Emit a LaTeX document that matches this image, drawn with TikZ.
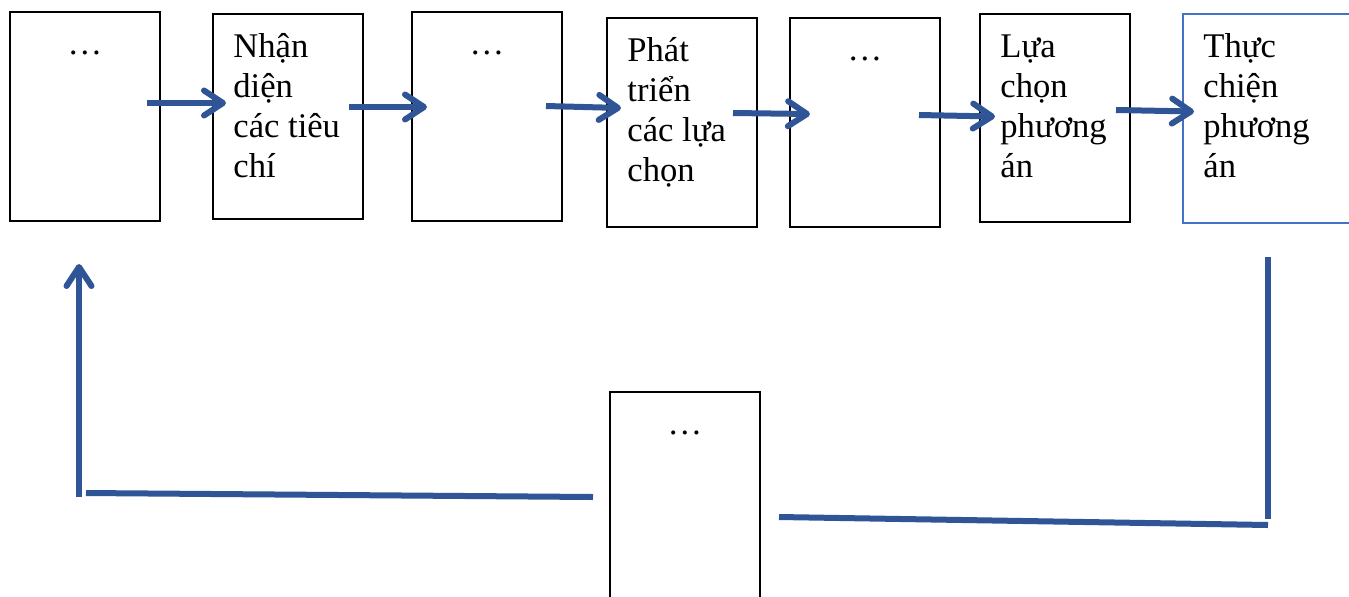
\documentclass[tikz,border=0pt]{standalone}
\usepackage{fontspec}
\setmainfont{Liberation Serif}
\usetikzlibrary{positioning,arrows.meta}
\definecolor{arrowblue}{HTML}{2F5597}
\definecolor{edgeblue}{HTML}{4472C4}
\tikzset{
     box/.style={rectangle, draw, line width=0.7pt, minimum width=75pt,
                 minimum height=104.5pt, inner sep=0pt, outer sep=0pt, anchor=north west},
     txt/.style={anchor=base west, inner sep=0pt, text width=64pt, align=flush left,
                 font=\fontsize{17.3pt}{20pt}\selectfont},
     dots/.style={anchor=base, inner sep=0pt, font=\fontsize{17.3pt}{20pt}\selectfont},
     flow/.style={draw=arrowblue, line width=3pt, -{Straight Barb[length=9.5pt,width=12.5pt,round]}},
     back/.style={draw=arrowblue, line width=3pt}
     }

\begin{document}
\begin{tikzpicture}
\clip (0,0) rectangle (674.5pt,-298pt);
\fill[white] (0,0) rectangle (674.5pt,-298pt);

% steps
\node [box] (b1) at (5pt,-6pt) {};
\node [box, minimum height=102.5pt] (b2) at (106.5pt,-7pt) {};
\node [box] (b3) at (206pt,-6pt) {};
\node [box] (b4) at (303.5pt,-9pt) {};
\node [box] (b5) at (395pt,-9pt) {};
\node [box, minimum height=104pt] (b6) at (490pt,-7pt) {};
\node [box, draw=edgeblue, line width=1.3pt, minimum width=100pt] (b7) at (591.5pt,-7pt) {};
\node [box] (b8) at (305pt,-196pt) {};

% texts
\node [dots] (d1) at ([yshift=-21pt]b1.north) {…};
\node [txt] (t2) at ([xshift=10pt,yshift=-21.5pt]b2.north west) {Nhận\\diện\\các tiêu\\chí};
\node [dots] (d3) at ([yshift=-21pt]b3.north) {…};
\node [txt] (t4) at ([xshift=10pt,yshift=-21.5pt]b4.north west) {Phát\\triển\\các lựa\\chọn};
\node [dots] (d5) at ([yshift=-21pt]b5.north) {…};
\node [txt] (t6) at ([xshift=10pt,yshift=-21.5pt]b6.north west) {Lựa\\chọn\\phương\\án};
\node [txt] (t7) at ([xshift=10pt,yshift=-21.5pt]b7.north west) {Thực\\chiện\\phương\\án};
\node [dots] (d8) at ([yshift=-21pt]b8.north) {…};

%Arrows
\draw [flow] ([xshift=-6.5pt,yshift=6.75pt]b1.east) -- ([xshift=6.5pt,yshift=6.75pt]b2.west);
\draw [flow] ([xshift=-7pt,yshift=4.75pt]b2.east) -- ([xshift=7.5pt,yshift=4.75pt]b3.west);
\draw [flow] ([xshift=-8pt,yshift=5.25pt]b3.east) -- ([xshift=7pt,yshift=7.25pt]b4.west);
\draw [flow] ([xshift=-12pt,yshift=4.75pt]b4.east) -- ([xshift=10pt,yshift=4.25pt]b5.west);
\draw [flow] ([xshift=-10.5pt,yshift=3.75pt]b5.east) -- ([xshift=7.5pt,yshift=0.75pt]b6.west);
\draw [flow] ([xshift=-7pt,yshift=4pt]b6.east) -- ([xshift=5.5pt,yshift=3.5pt]b7.west);

% feedback loop
\coordinate (r1) at (633.75pt,-128.5pt);
\coordinate (r2) at (633.75pt,-259.5pt);
\coordinate (r3) at (634pt,-262.5pt);
\coordinate (r4) at (389.5pt,-258.5pt);
\coordinate (l1) at (296.5pt,-248.5pt);
\coordinate (l2) at (43pt,-246.5pt);
\coordinate (l3) at (39.5pt,-248.5pt);
\coordinate (l4) at (39.5pt,-132pt);

\draw [back] (r1) -- (r2);
\draw [back] (r3) -- (r4);
\draw [back] (l1) -- (l2);
\draw [flow] (l3) -- (l4);
\end{tikzpicture}
\end{document}
